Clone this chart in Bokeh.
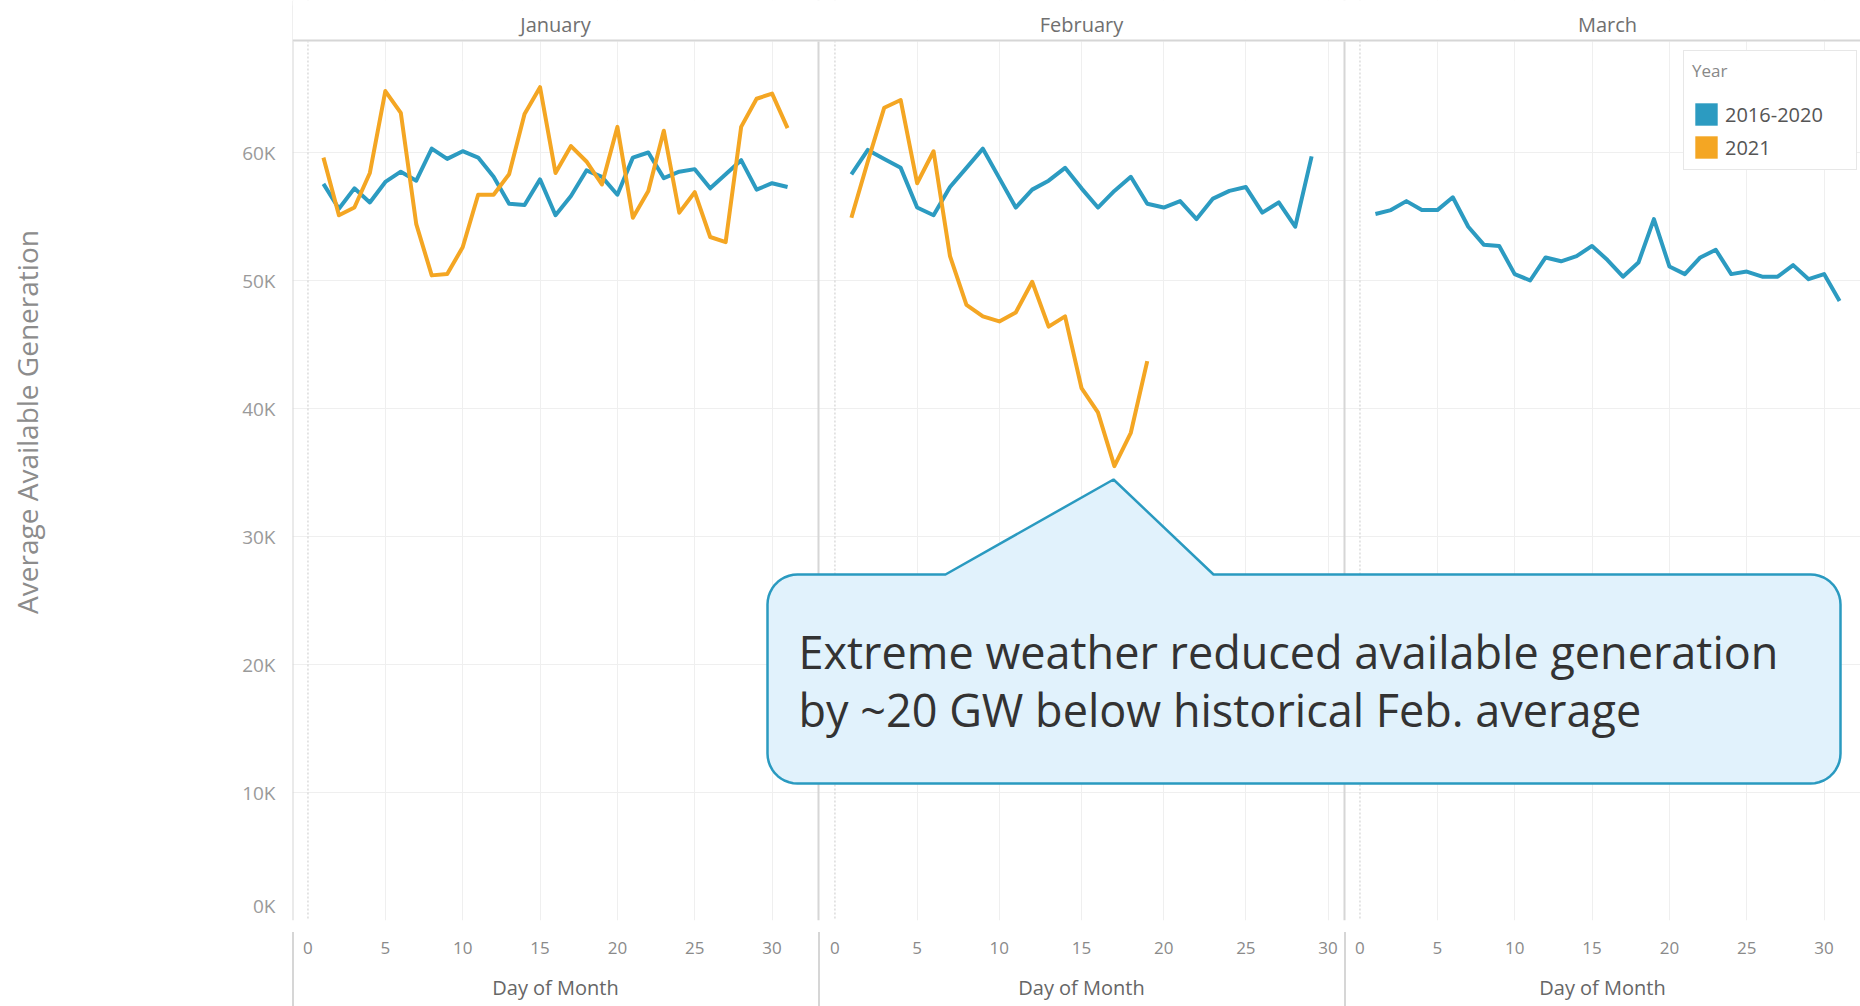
import numpy as np
from bokeh.plotting import figure
from bokeh.models import (Range1d, FixedTicker, Grid, Span, BoxAnnotation,
                          PolyAnnotation, Label, Legend, LegendItem)
from bokeh.layouts import column, row
from bokeh.embed import file_html
from bokeh.resources import INLINE

# ---------------- data (values in thousands of MW) ----------------
MONTHS = ["January", "February", "March"]
SERIES = ["2016-2020", "2021"]

JAN_DAYS = list(range(1, 32))
JAN_HIST = [57.55, 55.6, 57.2, 56.1, 57.7, 58.5, 57.8, 60.3, 59.5, 60.1, 59.6,
            58.1, 56.0, 55.9, 57.9, 55.1, 56.6, 58.6, 58.1, 56.7, 59.6, 60.0,
            58.0, 58.5, 58.7, 57.2, 58.3, 59.4, 57.1, 57.6, 57.3]
JAN_2021 = [59.6, 55.1, 55.7, 58.4, 64.8, 63.1, 54.4, 50.4, 50.5, 52.6, 56.7,
            56.7, 58.3, 63.0, 65.1, 58.4, 60.5, 59.3, 57.5, 62.0, 54.9, 57.0,
            61.7, 55.3, 56.9, 53.4, 53.0, 62.0, 64.2, 64.6, 61.9]
FEB_DAYS_HIST = list(range(1, 30))
FEB_HIST = [58.3, 60.2, 59.5, 58.8, 55.7, 55.1, 57.3, 58.8, 60.3, 58.0, 55.7,
            57.1, 57.8, 58.8, 57.2, 55.7, 57.0, 58.1, 56.0, 55.7, 56.2, 54.8,
            56.4, 57.0, 57.3, 55.3, 56.1, 54.2, 59.7]
FEB_DAYS_2021 = list(range(1, 20))
FEB_2021 = [54.9, 59.3, 63.5, 64.1, 57.6, 60.1, 51.9, 48.1, 47.2, 46.8, 47.5,
            49.9, 46.4, 47.2, 41.6, 39.7, 35.5, 38.1, 43.7]
MAR_DAYS = list(range(1, 32))
MAR_HIST = [55.2, 55.5, 56.2, 55.5, 55.5, 56.5, 54.2, 52.8, 52.7, 50.5, 50.0,
            51.8, 51.5, 51.9, 52.7, 51.6, 50.3, 51.4, 54.8, 51.1, 50.5, 51.8,
            52.4, 50.5, 50.7, 50.3, 50.3, 51.2, 50.1, 50.5, 48.4]

X_TICKS = [0, 5, 10, 15, 20, 25, 30]
X_GRID = [5, 10, 15, 20, 25, 30]
Y_TICKS = [0, 10, 20, 30, 40, 50, 60]
Y_TICK_LABELS = ["0K", "10K", "20K", "30K", "40K", "50K", "60K"]
PANEL_LIMITS = [(-1, 33), (-1, 31), (-1, 33)]

Y_TITLE = "Average Available Generation"
X_TITLE = "Day of Month"
LEGEND_TITLE = "Year"
CALLOUT = ["Extreme weather reduced available generation",
           "by ~20 GW below historical Feb. average"]

# ---------------- style / layout ----------------
BLUE = "#2C9BC1"
ORANGE = "#F4A623"
FONT = "Open Sans"
GRID_C = "#efefef"
BORDER_C = "#d6d6d6"

TOTAL_W = 1860
TITLE_W = 60
FRAME_L = 292
PANEL_W = 526
FRAME_R = 1860
FRAME_T = 0
FRAME_B = 920
MAIN_BOTTOM = 12
STRIP_H = 1006 - (FRAME_B + MAIN_BOTTOM)
FRAME_W = FRAME_R - FRAME_L
Y_TOP = (FRAME_B - FRAME_T) / 128.0 * 10.0
EDGE_LABEL_NUDGE = 1.1   # bottom tick label kept inside the pane, as in the original


def month_range(i):
    a, b = PANEL_LIMITS[i]
    d = b - a
    start = a - i * d
    return Range1d(start, start + FRAME_W * d / PANEL_W)


def xpx(px, i=0):
    a, b = PANEL_LIMITS[i]
    return a + (px - (FRAME_L + i * PANEL_W)) * (b - a) / PANEL_W


def ypx(py):
    return (FRAME_B - py) / (FRAME_B - FRAME_T) * Y_TOP


ranges = [month_range(i) for i in range(3)]
names = ["default", "feb", "mar"]

p = figure(width=TOTAL_W - TITLE_W, height=FRAME_B + MAIN_BOTTOM, x_range=ranges[0],
           y_range=Range1d(0, Y_TOP), x_axis_location=None, output_backend="svg",
           toolbar_location=None, min_border=0, min_border_left=FRAME_L - TITLE_W,
           min_border_bottom=MAIN_BOTTOM)
p.extra_x_ranges = {"feb": ranges[1], "mar": ranges[2]}
p.outline_line_color = None
p.background_fill_color = "white"
p.border_fill_color = "white"

label_pos = [max(v, EDGE_LABEL_NUDGE) for v in Y_TICKS]
p.yaxis.ticker = FixedTicker(ticks=label_pos)
p.yaxis.major_label_overrides = dict(zip(label_pos, Y_TICK_LABELS))
p.yaxis.axis_line_color = None
p.yaxis.major_tick_line_color = None
p.yaxis.minor_tick_line_color = None
p.yaxis.major_label_standoff = 11
p.yaxis.major_label_text_font = FONT
p.yaxis.major_label_text_font_size = "19px"
p.yaxis.major_label_text_color = "#9a9a9a"
p.ygrid.ticker = FixedTicker(ticks=Y_TICKS)
p.ygrid.grid_line_color = GRID_C
for g in p.xgrid:
    g.visible = False

for i, nm in enumerate(names):
    p.add_layout(Grid(dimension=0, ticker=FixedTicker(ticks=X_GRID), x_range_name=nm,
                      grid_line_color=GRID_C, grid_line_width=1))
    p.add_layout(Span(location=0, dimension="height", x_range_name=nm,
                      line_color="#c9c9c9", line_dash="2 2", line_width=1, level="underlay"))

# data lines
LW = 4
p.line(JAN_DAYS, JAN_HIST, line_color=BLUE, line_width=LW, line_join="round")
p.line(FEB_DAYS_HIST, FEB_HIST, x_range_name="feb", line_color=BLUE, line_width=LW, line_join="round")
p.line(MAR_DAYS, MAR_HIST, x_range_name="mar", line_color=BLUE, line_width=LW, line_join="round")
p.line(JAN_DAYS, JAN_2021, line_color=ORANGE, line_width=LW, line_join="round")
p.line(FEB_DAYS_2021, FEB_2021, x_range_name="feb", line_color=ORANGE, line_width=LW, line_join="round")

# header strip
p.add_layout(BoxAnnotation(bottom=ypx(41), fill_color="white", fill_alpha=1.0,
                           line_color=None, level="annotation"))
p.add_layout(BoxAnnotation(bottom=ypx(5), fill_color="white", fill_alpha=1.0,
                           line_color=None, level="overlay"))
p.add_layout(Span(location=ypx(40), dimension="width", line_color=BORDER_C,
                  line_width=2, level="overlay"))
for i, nm in enumerate(names):
    a, b = PANEL_LIMITS[i]
    p.add_layout(Span(location=a, dimension="height", x_range_name=nm,
                      line_color=BORDER_C, line_width=2, level="underlay"))
    p.add_layout(Label(x=(a + b) / 2, y=ypx(23.5), x_range_name=nm, text=MONTHS[i],
                       text_align="center", text_baseline="middle", text_font=FONT,
                       text_font_size="20px", text_color="#707070", level="overlay"))

# callout
L, R, T, B, r = 767, 1840, 574, 783, 30
tipx, tipy, b0, b1 = 1113, 479, 945, 1213
pts = []


def arc(cx, cy, t0, t1):
    for t in np.linspace(t0, t1, 12):
        pts.append((cx + r * np.cos(t), cy + r * np.sin(t)))


arc(L + r, T + r, np.pi, 1.5 * np.pi)
pts += [(b0, T), (tipx, tipy), (b1, T)]
arc(R - r, T + r, 1.5 * np.pi, 2 * np.pi)
arc(R - r, B - r, 0, 0.5 * np.pi)
arc(L + r, B - r, 0.5 * np.pi, np.pi)
p.add_layout(PolyAnnotation(xs=[xpx(x) for x, _ in pts], ys=[ypx(y) for _, y in pts],
                            fill_color="#E1F2FC", fill_alpha=1.0, line_color="#2A9AC0",
                            line_alpha=1.0, line_width=2.5, level="overlay"))
for txt, yy in zip(CALLOUT, [651, 709]):
    p.add_layout(Label(x=xpx(798), y=ypx(yy), text=txt, text_align="left",
                       text_baseline="middle", text_font=FONT, text_font_size="45px",
                       text_color="#333333", level="overlay"))

# legend with square swatches (proxy renderers holding no drawable point)
NAN = [float("nan")]
sq_blue = p.quad(left=NAN, right=NAN, top=NAN, bottom=NAN, fill_color=BLUE, line_color=None)
sq_orange = p.quad(left=NAN, right=NAN, top=NAN, bottom=NAN, fill_color=ORANGE, line_color=None)
legend = Legend(items=[LegendItem(label=SERIES[0], renderers=[sq_blue]),
                       LegendItem(label=SERIES[1], renderers=[sq_orange])],
                title=LEGEND_TITLE, location=(1683 - FRAME_L, FRAME_B - 170),
                glyph_width=28, glyph_height=28, spacing=5, padding=8, margin=0,
                label_standoff=5, label_width=123, title_standoff=18,
                label_text_font=FONT, label_text_font_size="20px", label_text_color="#555555",
                title_text_font=FONT, title_text_font_size="17px", title_text_color="#888888",
                title_text_font_style="normal",
                border_line_color="#d0d0d0", border_line_width=1,
                background_fill_color="white", background_fill_alpha=1.0)
p.add_layout(legend)

# y-axis title column
t = figure(width=TITLE_W, height=FRAME_B + MAIN_BOTTOM, x_range=Range1d(0, TITLE_W),
           y_range=Range1d(FRAME_B + MAIN_BOTTOM, 0), x_axis_location=None,
           y_axis_location=None, output_backend="svg", toolbar_location=None, min_border=0)
t.outline_line_color = None
t.xgrid.visible = False
t.ygrid.visible = False
t.add_layout(Label(x=26, y=427, text=Y_TITLE, angle=np.pi / 2, text_align="center",
                   text_baseline="middle", text_font=FONT, text_font_size="28px",
                   text_color="#8c8c8c"))

# x-axis strips
strips = []
for i in range(3):
    a, b = PANEL_LIMITS[i]
    pw = PANEL_W if i < 2 else FRAME_R - (FRAME_L + 2 * PANEL_W)
    lb = FRAME_L if i == 0 else 0
    s = figure(width=lb + pw, height=STRIP_H, x_range=Range1d(a, a + pw * (b - a) / PANEL_W),
               y_range=Range1d(0, 1), y_axis_location=None, output_backend="svg",
               toolbar_location=None, min_border=0, min_border_left=lb,
               min_border_bottom=STRIP_H - 1,
               styles={"background-image":
                       f"linear-gradient(to right, transparent {lb}px, {BORDER_C} {lb}px, "
                       f"{BORDER_C} {lb + 2}px, transparent {lb + 2}px)"})
    s.background_fill_alpha = 0
    s.border_fill_alpha = 0
    s.outline_line_color = None
    s.xgrid.visible = False
    s.ygrid.visible = False
    ax = s.xaxis[0]
    ax.ticker = FixedTicker(ticks=X_TICKS)
    ax.axis_line_color = None
    ax.major_tick_line_color = None
    ax.minor_tick_line_color = None
    ax.major_label_standoff = 2
    ax.major_label_text_font = FONT
    ax.major_label_text_font_size = "17px"
    ax.major_label_text_color = "#8a8a8a"
    ax.axis_label = X_TITLE
    ax.axis_label_standoff = 17
    ax.axis_label_text_font = FONT
    ax.axis_label_text_font_size = "20px"
    ax.axis_label_text_font_style = "normal"
    ax.axis_label_text_color = "#666666"
    strips.append(s)

layout = column(row(t, p), row(*strips))
open("out.html", "w").write(file_html(layout, INLINE))
